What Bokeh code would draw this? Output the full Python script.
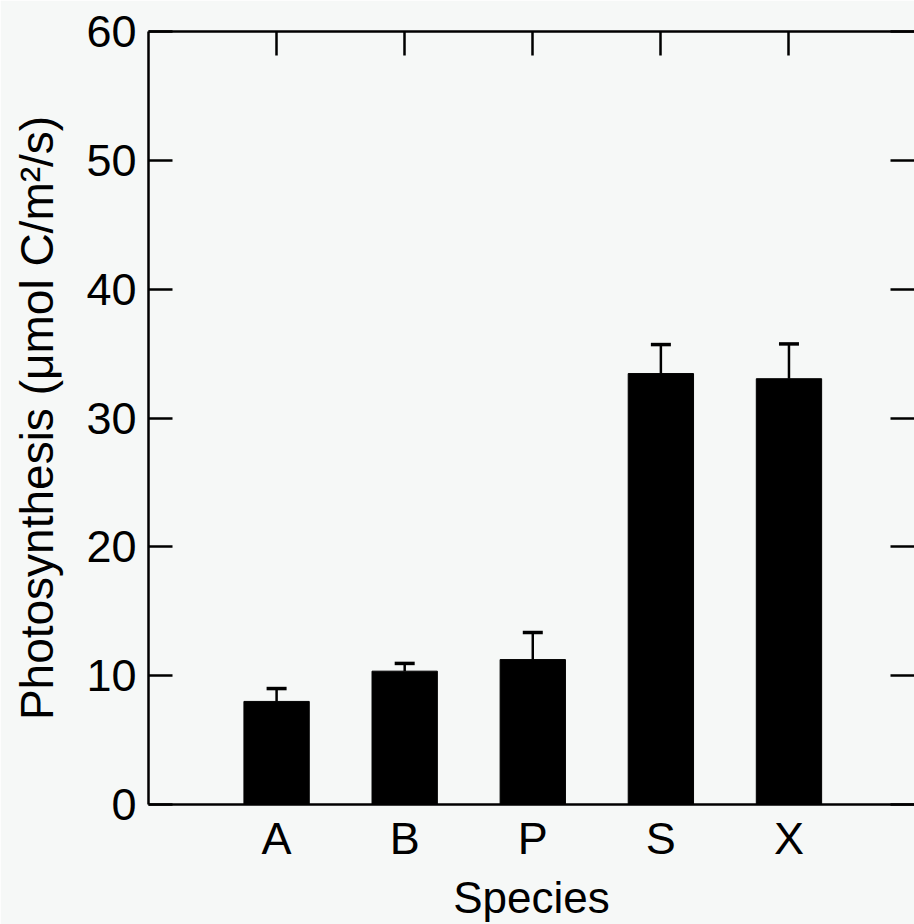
from bokeh.plotting import figure
from bokeh.models import ColumnDataSource, FixedTicker, LinearAxis, Whisker, TeeHead, Range1d
from bokeh.embed import file_html
from bokeh.resources import INLINE

# Net photosynthesis by species (mean and standard error)
species = ["A", "B", "P", "S", "X"]
photosynthesis = [8.0, 10.35, 11.25, 33.45, 33.05]
std_error = [1.0, 0.6, 2.1, 2.25, 2.7]
y_ticks = [0, 10, 20, 30, 40, 50, 60]

positions = [i + 1 for i in range(len(species))]
source = ColumnDataSource(dict(
    x=positions,
    top=photosynthesis,
    upper=[v + e for v, e in zip(photosynthesis, std_error)],
))

BG = "#f6f8f7"
FONT = "Liberation Sans"
LW = 2.5

p = figure(
    width=914, height=924,
    x_range=Range1d(0, 5.98), y_range=Range1d(0, 60),
    output_backend="svg", toolbar_location=None,
    x_axis_location=None, y_axis_location=None,
    background_fill_color=BG, border_fill_color=BG,
    min_border_left=148, min_border_right=0, min_border_top=31, min_border_bottom=120,
)
p.outline_line_color = None
p.grid.visible = False

p.vbar(x="x", top="top", width=0.51, bottom=0, source=source,
       fill_color="black", line_color="black")

err = Whisker(base="x", lower="top", upper="upper", source=source,
              line_color="black", line_width=2.5,
              upper_head=TeeHead(size=20, line_color="black", line_width=3.5),
              lower_head=None)
p.add_layout(err)

label_map = {pos: name for pos, name in zip(positions, species)}


def style_axis(ax, show_labels=True, show_line=True):
    ax.axis_line_width = LW
    ax.axis_line_color = "black" if show_line else None
    ax.major_tick_line_width = LW
    ax.major_tick_line_color = "black"
    ax.major_tick_in = 24
    ax.major_tick_out = 0
    ax.minor_tick_line_color = None
    ax.major_label_text_font = FONT
    ax.major_label_text_color = "black"
    if show_labels:
        ax.major_label_text_font_size = "45px"
        ax.major_label_standoff = 12
    else:
        ax.major_label_text_font_size = "0px"
        ax.major_label_standoff = 0
        ax.major_label_text_color = None
    ax.axis_label_text_font = FONT
    ax.axis_label_text_font_style = "normal"
    ax.axis_label_text_font_size = "44px"
    ax.axis_label_text_color = "black"


left = LinearAxis(ticker=FixedTicker(ticks=y_ticks),
                  axis_label="Photosynthesis (μmol C/m²/s)")
style_axis(left)
left.axis_label_text_font_size = "46px"
left.axis_label_standoff = 20
p.add_layout(left, "left")

right = LinearAxis(ticker=FixedTicker(ticks=y_ticks))
style_axis(right, show_labels=False, show_line=False)
p.add_layout(right, "right")

bottom = LinearAxis(ticker=FixedTicker(ticks=positions), axis_label="Species")
style_axis(bottom)
bottom.major_label_overrides = label_map
bottom.major_label_standoff = 8
bottom.axis_label_standoff = 6
p.add_layout(bottom, "below")

top = LinearAxis(ticker=FixedTicker(ticks=positions))
style_axis(top, show_labels=False)
p.add_layout(top, "above")

open("out.html", "w").write(file_html(p, INLINE))
